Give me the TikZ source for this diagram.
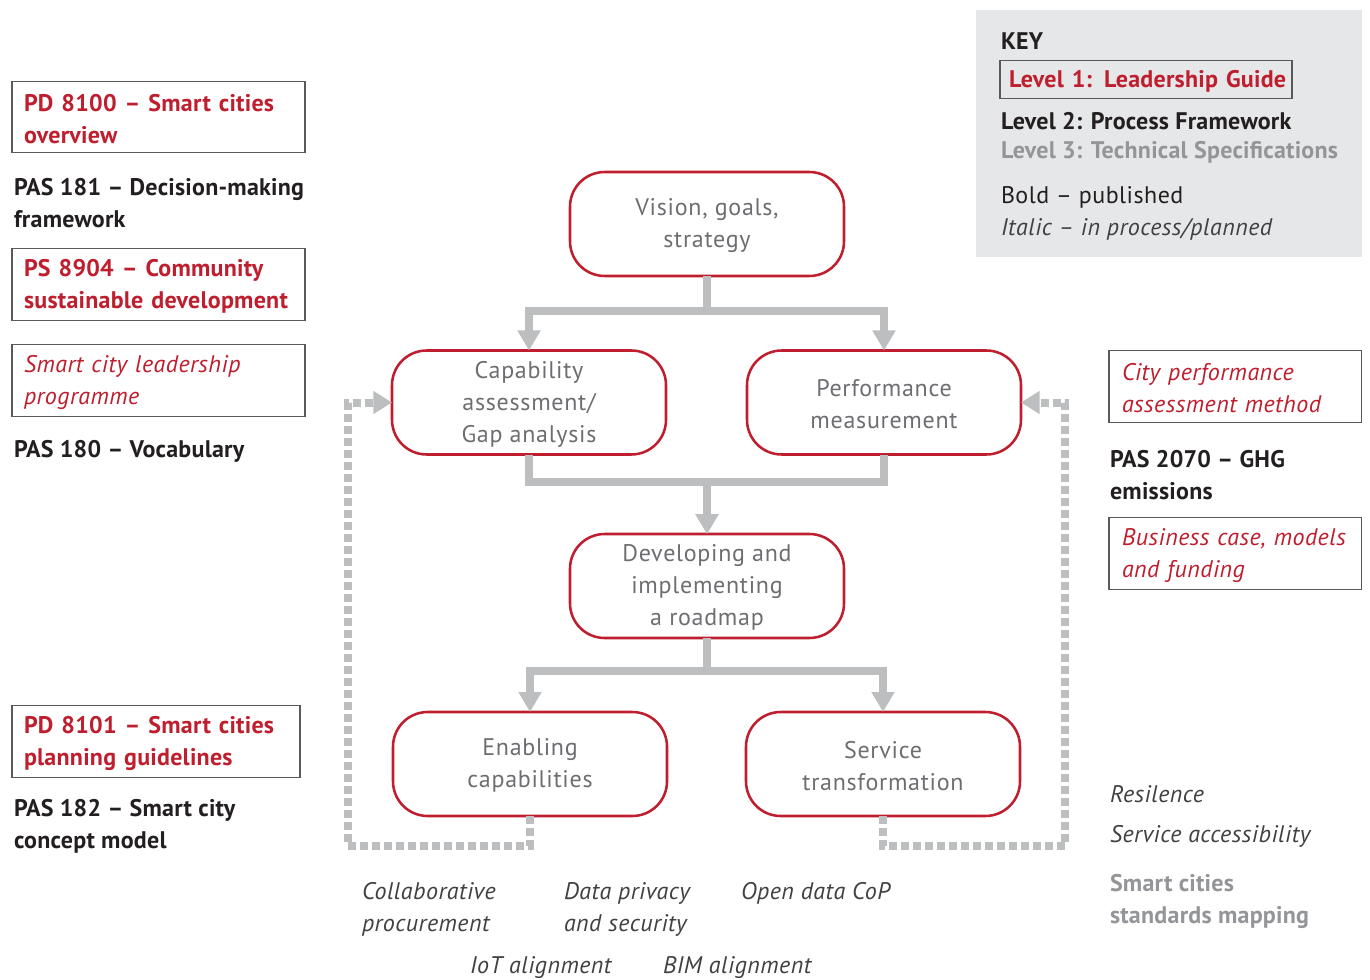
\documentclass[tikz,border=0pt]{standalone}
\usepackage{fontspec}
\setmainfont{PT Sans}
\usetikzlibrary{arrows.meta,calc}
\definecolor{bsired}{RGB}{190,30,45}
\definecolor{boxline}{RGB}{88,89,91}
\definecolor{boxtext}{RGB}{109,110,113}
\definecolor{ink}{RGB}{35,31,32}
\definecolor{lvlgray}{RGB}{147,149,152}
\definecolor{itgray}{RGB}{65,64,66}
\definecolor{conngray}{RGB}{188,190,192}
\definecolor{keybg}{RGB}{230,231,232}
\newcommand\fsz{\fontsize{18pt}{24pt}\selectfont}
\newcommand\fst{\rule{0pt}{15.5pt}}
\begin{document}
\begin{tikzpicture}[x=0.75pt,y=-0.75pt]
\tikzset{
  every node/.style={inner sep=0pt, outer sep=0pt, font=\fsz\addfontfeature{LetterSpace=2}},
  lbox/.style={draw=boxline, line width=0.9pt, anchor=west, align=left, inner xsep=9pt, minimum height=53.5pt},
  redbold/.style={text=bsired, font=\fsz\bfseries\addfontfeature{LetterSpace=1}},
  reditalic/.style={text=bsired, font=\fsz\itshape\addfontfeature{LetterSpace=2}},
  inkbold/.style={text=ink, font=\fsz\bfseries\addfontfeature{LetterSpace=1}, anchor=west, align=left},
  graybold/.style={text=lvlgray, font=\fsz\bfseries\addfontfeature{LetterSpace=1}, anchor=west, align=left},
  itnote/.style={text=itgray, font=\fsz\itshape\addfontfeature{LetterSpace=2}, anchor=west, align=left},
  proc/.style={draw=bsired, line width=1.9pt, rounded corners=26pt, fill=white,
    minimum width=205.5pt, minimum height=78pt, align=center, text=boxtext,
    font=\fsz\addfontfeature{LetterSpace=3}},
  flow/.style={draw=conngray, line width=6pt, -{Triangle[width=16.5pt,length=15pt]}},
  dots/.style={draw=conngray, line width=6pt, dash pattern=on 6pt off 3pt, -{Triangle[width=16.5pt,length=14pt]}}
}
\useasboundingbox (0,0) rectangle (1370,980);
\fill[white] (0,0) rectangle (1370,980);

% key panel
\fill[keybg] (976,10) rectangle (1362,257);
\node[inkbold] (key) at (1001,39) {\fst KEY};
\node[lbox, redbold, text width=205.5pt, inner xsep=6.75pt, minimum height=29pt] (lvl1) at (1000,79.5) {\fst\mbox{Level 1: Leadership Guide}};
\node[inkbold] (lvl2) at (1001,119) {\fst Level 2: Process Framework};
\node[graybold] (lvl3) at (1001,151) {\fst Level 3: Technical Specifications};
\node[anchor=west, text=ink] (kbold) at (1001,196) {\fst Bold – published};
\node[itnote] (kital) at (1001,228) {\fst Italic – in process/planned};

% left column
\node[lbox, redbold, text width=201.75pt] (b1) at (12,117) {\fst\mbox{PD 8100 – Smart cities}\\overview};
\node[inkbold] (pas181) at (14,201) {\fst PAS 181 – Decision-making\\framework};
\node[lbox, redbold, text width=201.75pt] (b2) at (12,284.5) {\fst\mbox{PS 8904 – Community}\\\mbox{sustainable development}};
\node[lbox, reditalic, text width=201.75pt] (b3) at (12,380.5) {\fst\mbox{Smart city leadership}\\programme};
\node[inkbold] (pas180) at (14,450) {\fst PAS 180 – Vocabulary};
\node[lbox, redbold, text width=198pt] (b4) at (12,741.5) {\fst\mbox{PD 8101 – Smart cities}\\\mbox{planning guidelines}};
\node[inkbold] (pas182) at (14,825) {\fst PAS 182 – Smart city\\concept model};

% right column
\node[lbox, reditalic, text width=170pt, inner xsep=9.75pt] (b5) at (1109,386.5) {\fst\mbox{City performance}\\\mbox{assessment method}};
\node[inkbold] (pas2070) at (1110,473) {\fst PAS 2070 – GHG\\emissions};
\node[lbox, reditalic, text width=170pt, inner xsep=9.75pt] (b6) at (1109,553.5) {\fst\mbox{Business case, models}\\and funding};
\node[itnote] (resil) at (1110,792) {\fst Resilence};
\node[itnote] (access) at (1110,835) {\fst Service accessibility};
\node[graybold] (mapping) at (1110,900) {\fst Smart cities\\standards mapping};

% bottom notes
\node[itnote] (collab) at (362,908) {\fst Collaborative\\procurement};
\node[itnote] (privacy) at (564,908) {\fst Data privacy\\and security};
\node[itnote] (opendata) at (741,892) {\fst Open data CoP};
\node[itnote] (iot) at (470,966) {\fst IoT alignment};
\node[itnote] (bim) at (663,966) {\fst BIM alignment};

% process boxes
\node[proc] (vision) at (707,224) {\fst Vision, goals,\\strategy};
\node[proc] (cap) at (529,402.5) {\fst Capability\\assessment/\\Gap analysis};
\node[proc] (perf) at (884,402.5) {\fst Performance\\measurement};
\node[proc] (dev) at (707,586) {\fst Developing and\\implementing\\a roadmap};
\node[proc] (enab) at (530,764) {\fst Enabling\\capabilities};
\node[proc] (serv) at (883,764) {\fst Service\\transformation};

% solid flows
\draw[flow] (vision.south) -- ++(0,35) -| (cap.north);
\draw[flow] (vision.south) -- ++(0,35) -| (perf.north);
\draw[flow] (cap.south) -- ++(0,27) -| (dev.north);
\draw[flow] (perf.south) -- ++(0,27) -| (dev.north);
\draw[flow] (dev.south) -- ++(0,33) -| (enab.north);
\draw[flow] (dev.south) -- ++(0,33) -| (serv.north);

% dotted feedback
\coordinate (lc) at ($(cap.west)+(-44,0)$);
\coordinate (rc) at ($(perf.east)+(44,0)$);
\draw[dots] (enab.south) -- ++(0,30) -| (lc) -- (cap.west);
\draw[dots] (serv.south) -- ++(0,30) -| (rc) -- (perf.east);
\end{tikzpicture}
\end{document}
